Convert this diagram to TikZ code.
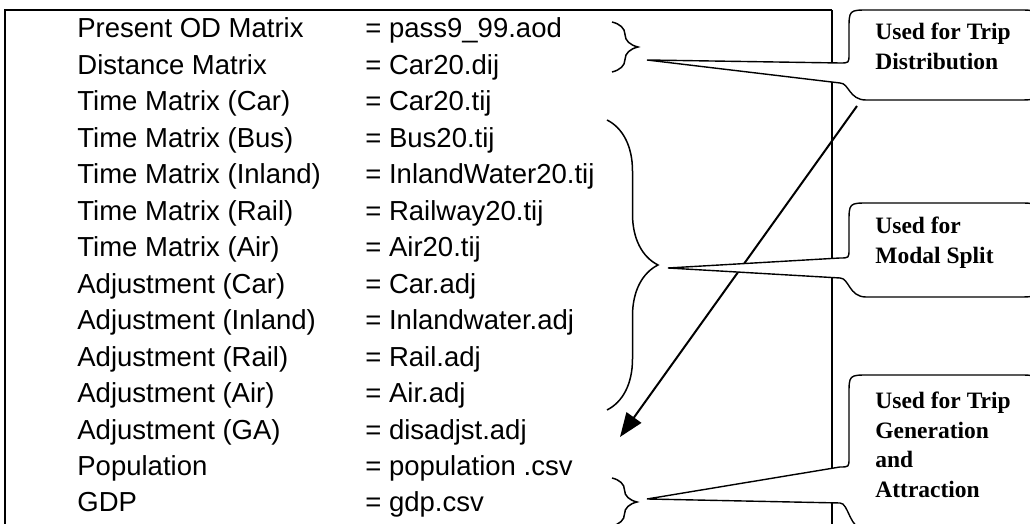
\documentclass[tikz,border=0pt]{standalone}
\usepackage{fontspec}
\setmainfont{Liberation Serif}
\setsansfont{Liberation Sans}
\usetikzlibrary{arrows.meta,decorations.pathreplacing}

\begin{document}
\begin{tikzpicture}[
  x=0.5pt,y=0.5pt,
  lbl/.style={anchor=base west,inner sep=0pt,font=\sffamily\fontsize{13.75}{16}\selectfont},
  note/.style={anchor=north west,inner sep=0pt,align=left,
               font=\bfseries\fontsize{11.75}{14.75}\selectfont},
  frame/.style={line width=0.8pt},
  brc/.style={decorate,decoration={brace,amplitude=#1},line width=0.75pt},
  callout/.style={draw,fill=white,line width=0.7pt},
  arr/.style={-{Triangle[length=12pt,width=9pt]},line width=1pt}
]
  \useasboundingbox (0,0) rectangle (1030,524);
  \fill[white] (0,0) rectangle (1030,524);
  \clip (0,0) rectangle (1030,524);

  % frame round the file list
  \draw[frame] (5,-10) -- (5,514) -- (832,514);
  \draw[frame,line width=1.4pt] (832,514) -- (832,-10);

  % input files
  \foreach \what/\file [count=\i] in {
      Present OD Matrix/{= pass9\_99.aod},
      Distance Matrix/{= Car20.dij},
      Time Matrix (Car)/{= Car20.tij},
      Time Matrix (Bus)/{= Bus20.tij},
      Time Matrix (Inland)/{= InlandWater20.tij},
      Time Matrix (Rail)/{= Railway20.tij},
      Time Matrix (Air)/{= Air20.tij},
      Adjustment (Car)/{= Car.adj},
      Adjustment (Inland)/{= Inlandwater.adj},
      Adjustment (Rail)/{= Rail.adj},
      Adjustment (Air)/{= Air.adj},
      Adjustment (GA)/{= disadjst.adj},
      Population/{= population .csv},
      GDP/{= gdp.csv}} {
    \node[lbl] (what\i) at (77,{486-36.46*(\i-1)}) {\what};
    \node[lbl] (file\i) at (365,{486-36.46*(\i-1)}) {\file};
  }

  % braces
  \draw[brc=13pt] (612,502) -- (612,452);
  \draw[brc=25.5pt] (607,404) -- (607,114);
  \draw[brc=12.5pt] (612,46) -- (612,-2);

  \coordinate (tipdist) at (647,464);
  \coordinate (tipmodal) at (668,256);
  \coordinate (tipgen) at (647,25);

  % arrow from the distribution note
  \coordinate (arrtail) at (857,418);
  \coordinate (arrhead) at (620,87);
  \draw[arr] (arrtail) -- (arrhead);

  % callouts
  \draw[callout] (tipdist) -- (840,461) .. controls (849,461) .. (849,470) -- (849,494)
    .. controls (849,514) .. (869,514) -- (1018,514) .. controls (1038,514) .. (1038,494)
    -- (1038,444) .. controls (1038,424) .. (1018,424) -- (866,424)
    .. controls (849,424) and (849,441) .. (840,441) -- cycle;
  \draw[callout] (tipmodal) -- (840,266) .. controls (849,266) .. (849,275) -- (849,301)
    .. controls (849,321) .. (869,321) -- (1018,321) .. controls (1038,321) .. (1038,301)
    -- (1038,247) .. controls (1038,227) .. (1018,227) -- (866,227)
    .. controls (849,227) and (849,246) .. (840,246) -- cycle;
  \draw[callout] (tipgen) -- (840,57) .. controls (849,57) .. (849,66) -- (849,129)
    .. controls (849,149) .. (869,149) -- (1018,149) .. controls (1038,149) .. (1038,129)
    -- (1038,-6) -- (866,-6)
    .. controls (849,-6) and (849,21) .. (840,21) -- cycle;

  \node[note] (dist) at (875,501) {Used for Trip\\Distribution};
  \node[note] (modal) at (875,307) {Used for\\Modal Split};
  \node[note] (gen) at (875,132) {Used for Trip\\Generation\\and\\Attraction};
\end{tikzpicture}
\end{document}
